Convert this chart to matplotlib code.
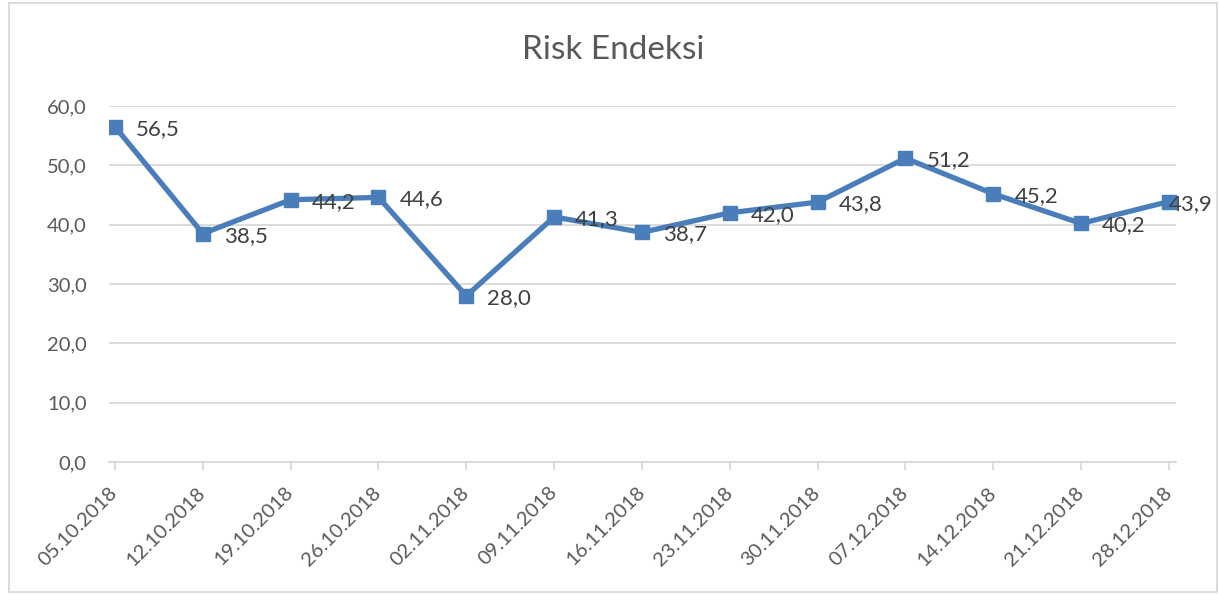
import matplotlib
matplotlib.use("Agg")
import matplotlib.pyplot as plt
from matplotlib.patches import Rectangle

dates = ["05.10.2018", "12.10.2018", "19.10.2018", "26.10.2018", "02.11.2018",
         "09.11.2018", "16.11.2018", "23.11.2018", "30.11.2018", "07.12.2018",
         "14.12.2018", "21.12.2018", "28.12.2018"]
risk_index = [56.5, 38.5, 44.2, 44.6, 28.0, 41.3, 38.7, 42.0, 43.8, 51.2, 45.2, 40.2, 43.9]
y_ticks = [0, 10, 20, 30, 40, 50, 60]

LINE_BLUE = "#4A7EBB"
GRID_GRAY = "#D9D9D9"
TEXT_GRAY = "#595959"
LABEL_GRAY = "#404040"

plt.rcParams["font.family"] = ["Lato", "DejaVu Sans"]


def comma(v):
    return f"{v:.1f}".replace(".", ",")


W, H = 1219, 594
fig = plt.figure(figsize=(W / 100, H / 100), dpi=100)
ax = fig.add_axes([109 / W, 1 - 462 / H, (1176 - 109) / W, (462 - 106) / H])

x = list(range(len(dates)))
ax.plot(x, risk_index, color=LINE_BLUE, linewidth=3.8, marker="s",
        markersize=10, zorder=3, solid_joinstyle="miter")

for i, v in enumerate(risk_index):
    # last label is pushed left by the chart edge, as in the original
    dx = 0 if i == len(risk_index) - 1 else 21
    ax.annotate(comma(v), (i, v), xytext=(dx * 0.72, -1.5), textcoords="offset points",
                ha="left", va="center", fontsize=16, color=LABEL_GRAY, zorder=4)

ax.set_xlim(-0.068, 12.08)
ax.set_ylim(0, 60)
ax.set_yticks(y_ticks)
ax.set_yticklabels([comma(t) for t in y_ticks])
ax.set_xticks(x)
ax.set_xticklabels(dates, rotation=45, ha="right", va="center", rotation_mode="anchor")

ax.grid(axis="y", color=GRID_GRAY, linewidth=1.3)
ax.set_axisbelow(True)
for side in ["left", "right", "top"]:
    ax.spines[side].set_visible(False)
ax.spines["bottom"].set_color(GRID_GRAY)
ax.spines["bottom"].set_linewidth(1.3)
ax.tick_params(axis="y", length=0, pad=16, labelsize=14.5, labelcolor=TEXT_GRAY)
ax.tick_params(axis="x", length=6, width=1.3, color=GRID_GRAY, pad=14,
               labelsize=14.5, labelcolor=TEXT_GRAY)

fig.text(613 / W, 1 - 50 / H, "Risk Endeksi", ha="center", va="center",
         fontsize=24, color=TEXT_GRAY)

fig.patches.append(Rectangle((9 / W, 1 - 592 / H), (1217 - 9) / W, (592 - 3) / H,
                             transform=fig.transFigure, fill=False,
                             edgecolor=GRID_GRAY, linewidth=1.3))

fig.savefig("out.png", dpi=100)
